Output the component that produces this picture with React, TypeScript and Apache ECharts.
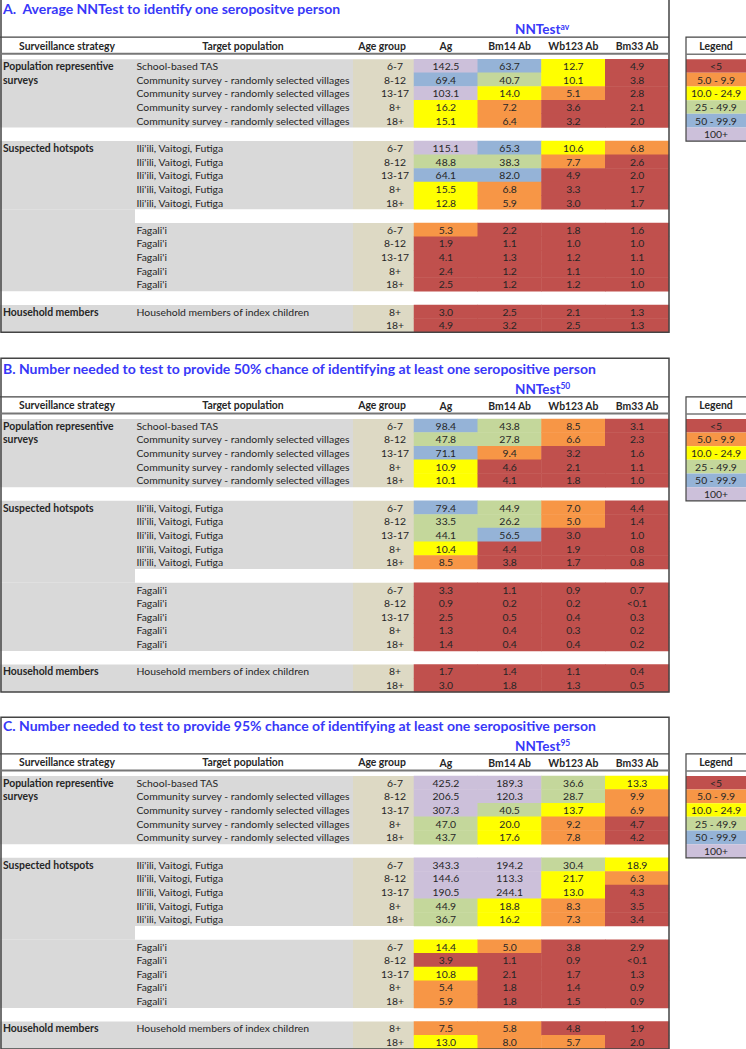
import React, { useEffect, useRef } from "react";
import * as echarts from "echarts";

// ---------- categories ----------
const columns = ["Ag", "Bm14 Ab", "Wb123 Ab", "Bm33 Ab"];
const rowIds = Array.from({ length: 20 }, (_, i) => "r" + i);
const strategyLabels = [
  "Population representive", "surveys", "", "", "", "",
  "Suspected hotspots", "", "", "", "", "", "", "", "", "", "", "",
  "Household members", "",
];
const CS = "Community survey - randomly selected villages";
const IV = "Ili'ili, Vaitogi, Futiga";
const FG = "Fagali'i";
const targetLabels = [
  "School-based TAS", CS, CS, CS, CS, "",
  IV, IV, IV, IV, IV, "",
  FG, FG, FG, FG, FG, "",
  "Household members of index children", "",
];
const ageLabels = [
  "6-7", "8-12", "13-17", "8+", "18+", "",
  "6-7", "8-12", "13-17", "8+", "18+", "",
  "6-7", "8-12", "13-17", "8+", "18+", "",
  "8+", "18+",
];
// row indices that hold values (others are spacer rows)
const dataRows = [0, 1, 2, 3, 4, 6, 7, 8, 9, 10, 12, 13, 14, 15, 16, 18, 19];

// ---------- titles ----------
const panelTitles = [
  "A.  Average NNTest to identify one seropositve person",
  "B. Number needed to test to provide 50% chance of identifying at least one seropositive person",
  "C. Number needed to test to provide 95% chance of identifying at least one seropositive person",
];
const panelSups = ["av", "50", "95"];

// ---------- values: panel A (average NNTest) ----------
const aAg = [142.5, 69.4, 103.1, 16.2, 15.1, 115.1, 48.8, 64.1, 15.5, 12.8, 5.3, 1.9, 4.1, 2.4, 2.5, 3.0, 4.9];
const aBm14 = [63.7, 40.7, 14.0, 7.2, 6.4, 65.3, 38.3, 82.0, 6.8, 5.9, 2.2, 1.1, 1.3, 1.2, 1.2, 2.5, 3.2];
const aWb123 = [12.7, 10.1, 5.1, 3.6, 3.2, 10.6, 7.7, 4.9, 3.3, 3.0, 1.8, 1.0, 1.2, 1.1, 1.2, 2.1, 2.5];
const aBm33 = [4.9, 3.8, 2.8, 2.1, 2.0, 6.8, 2.6, 2.0, 1.7, 1.7, 1.6, 1.0, 1.1, 1.0, 1.0, 1.3, 1.3];

// ---------- values: panel B (NNTest 50) ----------
const bAg = [98.4, 47.8, 71.1, 10.9, 10.1, 79.4, 33.5, 44.1, 10.4, 8.5, 3.3, 0.9, 2.5, 1.3, 1.4, 1.7, 3.0];
const bBm14 = [43.8, 27.8, 9.4, 4.6, 4.1, 44.9, 26.2, 56.5, 4.4, 3.8, 1.1, 0.2, 0.5, 0.4, 0.4, 1.4, 1.8];
const bWb123 = [8.5, 6.6, 3.2, 2.1, 1.8, 7.0, 5.0, 3.0, 1.9, 1.7, 0.9, 0.2, 0.4, 0.3, 0.4, 1.1, 1.3];
const bBm33: (number | string)[] = [3.1, 2.3, 1.6, 1.1, 1.0, 4.4, 1.4, 1.0, 0.8, 0.8, 0.7, "<0.1", 0.3, 0.2, 0.2, 0.4, 0.5];

// ---------- values: panel C (NNTest 95) ----------
const cAg = [425.2, 206.5, 307.3, 47.0, 43.7, 343.3, 144.6, 190.5, 44.9, 36.7, 14.4, 3.9, 10.8, 5.4, 5.9, 7.5, 13.0];
const cBm14 = [189.3, 120.3, 40.5, 20.0, 17.6, 194.2, 113.3, 244.1, 18.8, 16.2, 5.0, 1.1, 2.1, 1.8, 1.8, 5.8, 8.0];
const cWb123 = [36.6, 28.7, 13.7, 9.2, 7.8, 30.4, 21.7, 13.0, 8.3, 7.3, 3.8, 0.9, 1.7, 1.4, 1.5, 4.8, 5.7];
const cBm33: (number | string)[] = [13.3, 9.9, 6.9, 4.7, 4.2, 18.9, 6.3, 4.3, 3.5, 3.4, 2.9, "<0.1", 1.3, 0.9, 0.9, 1.9, 2.0];

const panels = [
  [aAg, aBm14, aWb123, aBm33],
  [bAg, bBm14, bWb123, bBm33],
  [cAg, cBm14, cWb123, cBm33],
];

// ---------- legend ----------
const legendLabels = ["<5", "5.0 - 9.9", "10.0 - 24.9", "25 - 49.9", "50 - 99.9", "100+"];
const legendBreaks = [5, 10, 25, 50, 100];

// ---------- styling ----------
const legendColors = ["#C0504D", "#F79646", "#FFFF00", "#C4D79B", "#95B3D7", "#CCC0DA"];
const GRAY = "#D9D9D9";
const TAN = "#DDD9C4";
const BLUE = "#3838F8";
const TXT = "#262626";
const FONT = "Lato";
const FS = 10.4;
const ROW_H = 13.65;
const N_ROWS = 20;
const GRID_LEFT = 414;
const GRID_RIGHT = 669;
const rowsTops = [59.2, 418.9, 775.9];
const boxTops = [-1, 358.3, 717.3];

function buildOption() {
  const pieces = legendLabels.map((label, i) => {
    const p: any = { color: legendColors[i], label };
    if (i > 0) p.gte = legendBreaks[i - 1];
    if (i < legendBreaks.length) p.lt = legendBreaks[i];
    return p;
  });

  const grids: any[] = [];
  const xAxes: any[] = [];
  const yAxes: any[] = [];
  const series: any[] = [];
  const graphics: any[] = [];

  panels.forEach((cols, p) => {
    const top = rowsTops[p];
    const height = ROW_H * N_ROWS;
    grids.push({ left: GRID_LEFT, top, width: GRID_RIGHT - GRID_LEFT, height });
    xAxes.push({
      type: "category",
      gridIndex: p,
      position: "top",
      data: columns,
      axisLine: { show: false },
      axisTick: { show: false },
      splitLine: { show: false },
      z: 10,
      axisLabel: {
        interval: 0,
        margin: 8,
        fontFamily: FONT,
        fontWeight: "bold",
        fontSize: FS,
        color: TXT,
      },
    });
    const yBase = {
      type: "category",
      gridIndex: p,
      inverse: true,
      position: "left",
      axisLine: { show: false },
      axisTick: { show: false },
      splitLine: { show: false },
      z: 10,
    };
    yAxes.push({ ...yBase, data: rowIds, axisLabel: { show: false } });
    yAxes.push({
      ...yBase,
      data: strategyLabels,
      axisLabel: { interval: 0, align: "left", margin: GRID_LEFT - 3, fontFamily: FONT, fontWeight: "bold", fontSize: FS, color: TXT },
    });
    yAxes.push({
      ...yBase,
      data: targetLabels,
      axisLabel: { interval: 0, align: "left", margin: GRID_LEFT - 136.5, fontFamily: FONT, fontSize: FS, color: TXT },
    });
    yAxes.push({
      ...yBase,
      data: ageLabels,
      axisLabel: { interval: 0, align: "center", margin: 19, fontFamily: FONT, fontSize: FS, color: TXT },
    });

    const data: any[] = [];
    cols.forEach((vals, c) => {
      vals.forEach((v, k) => {
        const num = typeof v === "string" ? 0 : v;
        const text = typeof v === "string" ? v : v.toFixed(1);
        data.push([c, dataRows[k], num, text]);
      });
    });
    series.push({
      type: "heatmap",
      xAxisIndex: p,
      yAxisIndex: p * 4,
      data,
      z: 2,
      itemStyle: { borderWidth: 0 },
      emphasis: { disabled: true },
      label: {
        show: true,
        formatter: (prm: any) => prm.value[3],
        fontFamily: FONT,
        fontSize: FS,
        color: TXT,
      },
    });

    // backgrounds of label columns
    const bands = [
      [0, 4],
      [6, 10],
      [12, 16],
      [18, 19],
    ];
    bands.forEach(([r0, r1]) => {
      const y = top + r0 * ROW_H;
      const h = (r1 - r0 + 1) * ROW_H;
      graphics.push({ type: "rect", z: 1, shape: { x: 0, y, width: 353, height: h }, style: { fill: GRAY } });
      graphics.push({ type: "rect", z: 1, shape: { x: 353, y, width: GRID_LEFT - 353, height: h }, style: { fill: TAN } });
    });
    graphics.push({ type: "rect", z: 1, shape: { x: 0, y: top + 11 * ROW_H, width: 135, height: ROW_H }, style: { fill: GRAY } });

    // box & header lines
    const boxTop = boxTops[p];
    const boxBottom = top + height;
    graphics.push({
      type: "rect",
      z: 50,
      shape: { x: 1, y: boxTop, width: GRID_RIGHT - 1, height: boxBottom - boxTop },
      style: { fill: "none", stroke: "#444", lineWidth: 1.5 },
    });
    graphics.push({ type: "line", z: 50, shape: { x1: 0, y1: top - 22, x2: GRID_RIGHT, y2: top - 22 }, style: { stroke: "#444", lineWidth: 1.2 } });
    graphics.push({ type: "line", z: 50, shape: { x1: 0, y1: top - 5.5, x2: GRID_RIGHT, y2: top - 5.5 }, style: { stroke: "#777", lineWidth: 2 } });

    // title
    graphics.push({
      type: "text",
      z: 50,
      style: {
        text: panelTitles[p], x: 3, y: top - 50.5,
        fill: BLUE, fontFamily: FONT, fontWeight: "bold", fontSize: 14,
        textAlign: "left", textVerticalAlign: "middle", align: "left", verticalAlign: "middle",
      },
    });
    graphics.push({
      type: "text",
      z: 50,
      style: {
        text: "{a|NNTest}{b|" + panelSups[p] + "}",
        x: 515, y: top - 30,
        textAlign: "left", textVerticalAlign: "middle", align: "left", verticalAlign: "middle",
        rich: {
          a: { fill: BLUE, color: BLUE, fontFamily: FONT, fontWeight: "bold", fontSize: 13.5, verticalAlign: "bottom" },
          b: { fill: BLUE, color: BLUE, fontFamily: FONT, fontWeight: "bold", fontSize: 8.5, verticalAlign: "top" },
        },
      },
    });
    // header labels for text columns
    [["Surveillance strategy", 67], ["Target population", 243], ["Age group", 382]].forEach(([t, x]) => {
      graphics.push({
        type: "text",
        z: 50,
        style: {
          text: t, x, y: top - 13.5, fill: TXT, fontFamily: FONT, fontWeight: "bold", fontSize: FS,
          textAlign: "center", textVerticalAlign: "middle", align: "center", verticalAlign: "middle",
        },
      });
    });

    // legend box
    const lgTop = top - 22;
    const lgBottom = top + legendLabels.length * ROW_H;
    legendLabels.forEach((label, i) => {
      graphics.push({
        type: "rect",
        z: 5,
        shape: { x: 686, y: top + i * ROW_H, width: 70, height: ROW_H },
        style: { fill: legendColors[i] },
      });
      graphics.push({
        type: "text",
        z: 50,
        style: {
          text: label, x: 716, y: top + (i + 0.5) * ROW_H, fill: TXT, fontFamily: FONT, fontSize: FS,
          textAlign: "center", textVerticalAlign: "middle", align: "center", verticalAlign: "middle",
        },
      });
    });
    graphics.push({
      type: "rect",
      z: 50,
      shape: { x: 686, y: lgTop, width: 70, height: lgBottom - lgTop },
      style: { fill: "none", stroke: "#444", lineWidth: 1.2 },
    });
    graphics.push({ type: "line", z: 50, shape: { x1: 686, y1: top - 5, x2: 746, y2: top - 5 }, style: { stroke: "#777", lineWidth: 1.5 } });
    graphics.push({
      type: "text",
      z: 50,
      style: {
        text: "Legend", x: 716, y: top - 13.5, fill: TXT, fontFamily: FONT, fontWeight: "bold", fontSize: FS,
        textAlign: "center", textVerticalAlign: "middle", align: "center", verticalAlign: "middle",
      },
    });
  });

  return {
    animation: false,
    backgroundColor: "#ffffff",
    grid: grids,
    xAxis: xAxes,
    yAxis: yAxes,
    visualMap: {
      type: "piecewise",
      show: false,
      dimension: 2,
      seriesIndex: [0, 1, 2],
      pieces,
    },
    series,
    graphic: { elements: graphics },
  };
}

export default function App() {
  const ref = useRef<HTMLDivElement>(null);
  useEffect(() => {
    document.body.style.margin = "0";
    const chart = echarts.init(ref.current!, null, { renderer: "svg" });
    chart.setOption(buildOption() as any);
    return () => chart.dispose();
  }, []);
  return <div ref={ref} style={{ width: 746, height: 1049, overflow: "hidden" }} />;
}
